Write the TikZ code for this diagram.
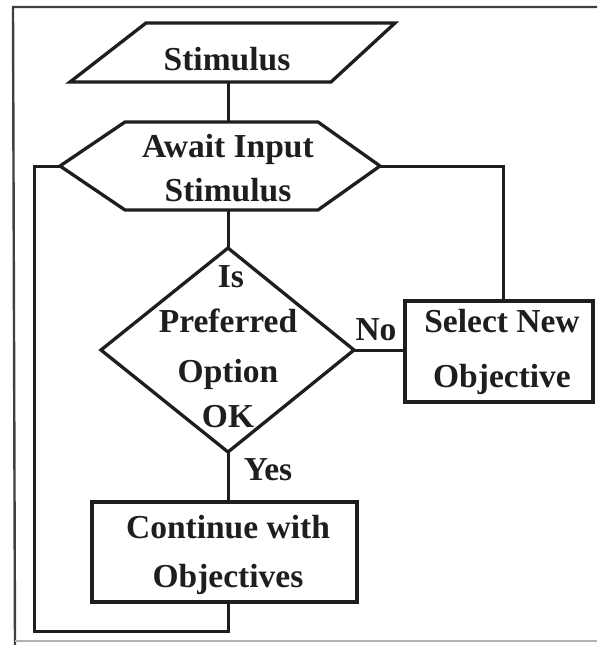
\documentclass[tikz,border=0pt]{standalone}
\usepackage{fontspec}
\setmainfont{Liberation Serif}
\definecolor{ink}{HTML}{1E1E1E}
\begin{document}
\begin{tikzpicture}[x=1pt,y=-1pt,
  shapeline/.style={draw=ink,line width=3.3pt,line join=miter},
  conn/.style={draw=ink,line width=3pt},
  framel/.style={draw=ink!85,line width=2.4pt},
  lbl/.style={anchor=base,inner sep=0pt,text=ink,font=\fontsize{33.5}{38}\selectfont\bfseries}]
\useasboundingbox[fill=white] (0,0) rectangle (597,645);
% frame
\draw[framel] (597,7) -- (13,7) -- (15,645);
\draw[draw=black!30,line width=1.5pt] (15,641) -- (597,641);
% shapes
\draw[shapeline] (146,23) -- (395,23) -- (331,82) -- (70,82) -- cycle;
\draw[shapeline] (125,122) -- (318,122) -- (380,166) -- (318,210) -- (125,210) -- (60,166) -- cycle;
\draw[shapeline] (228,248) -- (354,350) -- (228,452) -- (101,350) -- cycle;
\draw[shapeline] (405,301) rectangle (593,402);
\draw[shapeline] (92,502) rectangle (357,602);
% anchor coordinates
\coordinate (stimB) at (228,82);
\coordinate (hexT) at (228,122);
\coordinate (hexB) at (228,210);
\coordinate (hexL) at (60,166);
\coordinate (hexR) at (380,166);
\coordinate (decT) at (228,248);
\coordinate (decR) at (354,350);
\coordinate (decB) at (228,452);
\coordinate (selL) at (405,350);
\coordinate (selT) at (503,301);
\coordinate (contT) at (228,502);
\coordinate (contB) at (228,602);
\coordinate (loopBL) at (34,631);
% texts
\node[lbl] (stim) at (227,70) {Stimulus};
\node[lbl] (await1) at (228,157) {Await Input};
\node[lbl] (await2) at (228,201) {Stimulus};
\node[lbl] (dec1) at (231,287) {Is};
\node[lbl] (dec2) at (228,332) {Preferred};
\node[lbl] (dec3) at (228,382) {Option};
\node[lbl] (dec4) at (228,427) {OK};
\node[lbl] (sel1) at (502,332) {Select New};
\node[lbl] (sel2) at (502,387) {Objective};
\node[lbl] (cont1) at (228,538) {Continue with};
\node[lbl] (cont2) at (228,587) {Objectives};
\node[lbl] (no) at (376,340) {No};
\node[lbl] (yes) at (268,480) {Yes};
% connectors
\draw[conn] (stimB) -- (hexT);
\draw[conn] (hexB) -- (decT);
\draw[conn] (decR) -- (selL);
\draw[conn] (decB) -- (contT);
\draw[conn] (hexR) -| (selT);
\draw[conn] (hexL) -| (loopBL) -| (contB);
\end{tikzpicture}
\end{document}
